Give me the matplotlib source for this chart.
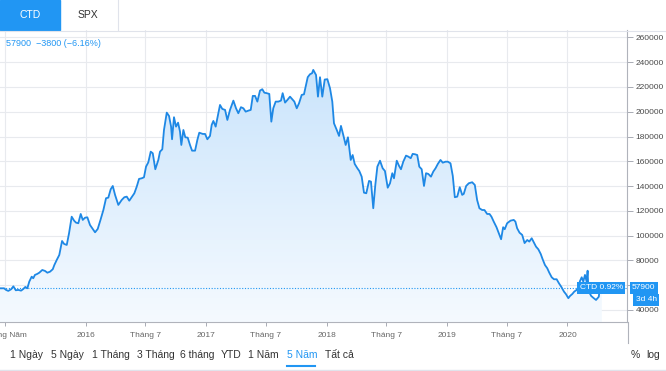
import matplotlib
matplotlib.use('Agg')
import matplotlib.pyplot as plt
import matplotlib.transforms as mtransforms
from matplotlib.patches import Rectangle
from matplotlib.colors import LinearSegmentedColormap
import numpy as np

plt.rcParams['font.family'] = ['Liberation Sans', 'DejaVu Sans']

# time as fractional years, CTD close price
t = [2015.290, 2015.324, 2015.340, 2015.359, 2015.382, 2015.401, 2015.421, 2015.442, 2015.465, 2015.484,
     2015.500, 2015.517, 2015.533, 2015.553, 2015.566, 2015.580, 2015.599, 2015.616, 2015.641, 2015.664,
     2015.683, 2015.705, 2015.728, 2015.741, 2015.761, 2015.782, 2015.805, 2015.822, 2015.844, 2015.863,
     2015.885, 2015.905, 2015.921, 2015.940, 2015.960, 2015.977, 2015.996, 2016.015, 2016.037, 2016.060,
     2016.079, 2016.101, 2016.124, 2016.148, 2016.170, 2016.189, 2016.209, 2016.226, 2016.245, 2016.272,
     2016.300, 2016.322, 2016.342, 2016.363, 2016.383, 2016.405, 2016.425, 2016.444, 2016.466, 2016.485,
     2016.502, 2016.521, 2016.541, 2016.558, 2016.579, 2016.604, 2016.618, 2016.637, 2016.651, 2016.674,
     2016.693, 2016.710, 2016.718, 2016.734, 2016.751, 2016.768, 2016.784, 2016.795, 2016.812, 2016.828,
     2016.848, 2016.867, 2016.884, 2016.909, 2016.928, 2016.944, 2016.973, 2016.992, 2017.011, 2017.033,
     2017.047, 2017.061, 2017.080, 2017.102, 2017.116, 2017.135, 2017.158, 2017.177, 2017.199, 2017.227,
     2017.249, 2017.268, 2017.290, 2017.310, 2017.329, 2017.351, 2017.371, 2017.388, 2017.407, 2017.426,
     2017.448, 2017.467, 2017.484, 2017.504, 2017.525, 2017.542, 2017.558, 2017.578, 2017.600, 2017.622,
     2017.636, 2017.656, 2017.675, 2017.697, 2017.716, 2017.733, 2017.753, 2017.772, 2017.794, 2017.813,
     2017.830, 2017.844, 2017.863, 2017.880, 2017.890, 2017.913, 2017.929, 2017.946, 2017.965, 2017.985,
     2018.007, 2018.029, 2018.048, 2018.062, 2018.085, 2018.104, 2018.120, 2018.139, 2018.159, 2018.178,
     2018.201, 2018.217, 2018.234, 2018.256, 2018.272, 2018.292, 2018.311, 2018.330, 2018.353, 2018.369,
     2018.388, 2018.405, 2018.422, 2018.444, 2018.466, 2018.485, 2018.508, 2018.527, 2018.546, 2018.560,
     2018.583, 2018.602, 2018.618, 2018.637, 2018.660, 2018.679, 2018.699, 2018.715, 2018.734, 2018.753,
     2018.770, 2018.790, 2018.809, 2018.826, 2018.845, 2018.867, 2018.886, 2018.905, 2018.924, 2018.946,
     2018.965, 2018.988, 2019.007, 2019.029, 2019.048, 2019.065, 2019.085, 2019.106, 2019.126, 2019.139,
     2019.159, 2019.181, 2019.209, 2019.231, 2019.250, 2019.269, 2019.292, 2019.311, 2019.333, 2019.353,
     2019.369, 2019.388, 2019.411, 2019.430, 2019.449, 2019.466, 2019.479, 2019.499, 2019.527, 2019.554,
     2019.568, 2019.582, 2019.602, 2019.624, 2019.644, 2019.666, 2019.683, 2019.703, 2019.722, 2019.739,
     2019.758, 2019.778, 2019.794, 2019.813, 2019.832, 2019.849, 2019.869, 2019.888, 2019.910, 2019.929,
     2019.951, 2019.971, 2019.988, 2020.007, 2020.021, 2020.040, 2020.056, 2020.076, 2020.089, 2020.104,
     2020.118, 2020.131, 2020.145, 2020.159, 2020.167, 2020.174, 2020.197, 2020.216, 2020.237, 2020.260,
     2020.272, 2020.285]
price = [57500, 57500, 56200, 55400, 56700, 59100, 55900, 56200, 55600, 57000,
         58600, 57500, 62900, 66900, 65600, 68300, 69100, 70100, 72300, 71500,
         70100, 70900, 72900, 76300, 80400, 84400, 95700, 93300, 92500, 101900,
         115300, 112100, 110500, 110000, 117500, 112700, 114500, 114800, 108600, 105400,
         102700, 105400, 112700, 120700, 130200, 130700, 137500, 140100, 132900, 124800,
         128800, 131000, 131500, 128200, 131000, 134200, 139600, 145800, 146300, 147100,
         155700, 159200, 167800, 166500, 153600, 161100, 167800, 169700, 185300, 199300,
         196600, 188000, 177800, 195600, 188000, 191200, 184000, 173200, 185300, 179400,
         179100, 173200, 168600, 168600, 177300, 183100, 182100, 182100, 177800, 180500,
         189400, 192600, 188000, 198800, 205500, 202300, 201500, 193400, 201500, 209000,
         202800, 198800, 203700, 202800, 200100, 200900, 201500, 212800, 212800, 208200,
         217100, 218200, 215400, 215000, 214400, 192000, 202800, 208200, 208200, 209000,
         215000, 207400, 209500, 212200, 210100, 208200, 202800, 206900, 213600, 214100,
         221700, 227900, 230300, 231100, 233800, 229700, 212200, 227900, 212200, 226000,
         226300, 219000, 208200, 190700, 185300, 180500, 188600, 181300, 173200, 179400,
         161100, 165100, 157900, 154400, 152200, 147600, 134700, 134200, 144200, 143600,
         122100, 140900, 155700, 160500, 154400, 152200, 138700, 142300, 150400, 146300,
         160500, 156300, 153600, 159700, 164600, 163800, 162500, 166000, 165700, 165100,
         155700, 153600, 140100, 150400, 149800, 147600, 151700, 154400, 157900, 161100,
         158900, 159700, 159700, 158400, 148200, 131000, 131500, 139100, 132900, 133700,
         140100, 142300, 143100, 140900, 128800, 122100, 120700, 120700, 117500, 117500,
         115300, 111300, 106800, 101900, 97100, 106800, 105200, 110000, 112100, 112700,
         111300, 106000, 102400, 100600, 94000, 96500, 95200, 97900, 94300, 91100,
         89000, 85200, 80900, 76300, 73700, 70100, 66400, 64800, 64800, 61600,
         58300, 54800, 52700, 49500, 51300, 52900, 54800, 56200, 58300, 63400,
         66400, 62900, 68300, 62900, 71700, 55400, 51300, 49700, 48100, 50700,
         61700, 57900]

last = 57900
header = '57900  \u22123800 (\u22126.16%)'
yticks = list(range(40000, 260001, 20000))
xtick_pos = [2015.329, 2016, 2016.497, 2017, 2017.496, 2018, 2018.496, 2019, 2019.496, 2020]
xtick_lab = ['Tháng Năm', '2016', 'Tháng 7', '2017', 'Tháng 7', '2018', 'Tháng 7', '2019', 'Tháng 7', '2020']
ranges = ['1 Ngày', '5 Ngày', '1 Tháng', '3 Tháng', '6 tháng', 'YTD', '1 Năm', '5 Năm', 'Tất cả']
range_x = [10, 51, 92, 137, 180, 221, 248, 287, 325]

blue = '#2196f3'
line_c = '#1e88e5'
xmin, xmax = 2015.290, 2020.494
ymin, ymax = 30300, 266000

fig = plt.figure(figsize=(6.66, 3.71), dpi=100)
ax = fig.add_axes([0, 1 - 322 / 371, 627 / 666, 292 / 371])

# gradient area under the line
poly, = ax.fill(np.r_[t[0], t, t[-1]], np.r_[ymin, price, ymin], facecolor='none', edgecolor='none')
grad = np.linspace(1, 0, 256).reshape(-1, 1)
cmap = LinearSegmentedColormap.from_list('g', ['#f5faff', '#c4e1fb'])
im = ax.imshow(grad, cmap=cmap, aspect='auto', extent=[xmin, xmax, ymin, ymax], origin='upper', zorder=1)
im.set_clip_path(poly)

ax.plot(t, price, color=line_c, lw=1.3, zorder=3, solid_joinstyle='round')
ax.axhline(last, color=blue, lw=0.8, ls=(0, (1, 1.5)), zorder=2)

ax.set_xlim(xmin, xmax)
ax.set_ylim(ymin, ymax)
ax.grid(color='#e8eaee', lw=0.8)
ax.set_axisbelow(True)

# the 60000 label sits under the last-price box
ax.yaxis.tick_right()
ax.set_yticks(yticks, ['' if v == 60000 else str(v) for v in yticks])
ax.set_xticks(xtick_pos, xtick_lab)
ax.tick_params(axis='y', length=4, width=0.6, color='#9a9ea8', labelsize=6, labelcolor='#4a4a4a', pad=2)
ax.tick_params(axis='x', length=3, width=0.6, color='#9a9ea8', labelsize=6, labelcolor='#666666', pad=4)
for s in ['left', 'top']:
    ax.spines[s].set_visible(False)
for s in ['right', 'bottom']:
    ax.spines[s].set_color('#b0b3bb')
    ax.spines[s].set_linewidth(0.8)

# price labels at the last value
trans = mtransforms.blended_transform_factory(ax.transAxes, ax.transData)
ax.text(0.9936, last, 'CTD 0.92%', transform=trans, ha='right', va='center', fontsize=6, color='white',
        bbox=dict(boxstyle='square,pad=0.3', fc=blue, ec='none'), zorder=6)
ax.text(1.008, last, str(last), transform=trans, ha='left', va='center', fontsize=6, color='white',
        bbox=dict(boxstyle='square,pad=0.3', fc=blue, ec='none'), zorder=6, clip_on=False)
down = trans + mtransforms.ScaledTranslation(0, -12 / 100, fig.dpi_scale_trans)
ax.text(1.014, last, '3d 4h', transform=down, ha='left', va='center', fontsize=6, color='white',
        bbox=dict(boxstyle='square,pad=0.3', fc=blue, ec='none'), zorder=6, clip_on=False)

# widget frame: tabs, header text, range bar
ov = fig.add_axes([0, 0, 1, 1])
ov.set_xlim(0, 666)
ov.set_ylim(371, 0)
ov.axis('off')
ov.add_patch(Rectangle((0, 0), 60, 30, color=blue))
ov.text(30, 15, 'CTD', color='white', fontsize=7.5, ha='center', va='center')
ov.text(88, 15, 'SPX', color='#333333', fontsize=7.5, ha='center', va='center')
ov.plot([117.5, 117.5], [0, 30], color='#e0e3eb', lw=0.8)
ov.plot([0, 666], [30.5, 30.5], color='#e0e3eb', lw=0.8)
ov.text(6, 43, header, color=blue, fontsize=6.5, va='center')
ov.plot([627.5, 627.5], [322, 343], color='#b0b3bb', lw=0.8)

for lab, x in zip(ranges, range_x):
    c = blue if lab == '5 Năm' else '#333333'
    ov.text(x, 355, lab, color=c, fontsize=7.5, va='center')
ov.plot([287, 315], [366, 366], color=blue, lw=1.5)
ov.text(631, 355, '%', color='#333333', fontsize=7.5, va='center')
ov.text(646, 355, 'log', color='#333333', fontsize=7.5, va='center')
ov.plot([0, 666], [369.5, 369.5], color='#e0e3eb', lw=1)

fig.savefig('out.png', dpi=100)
